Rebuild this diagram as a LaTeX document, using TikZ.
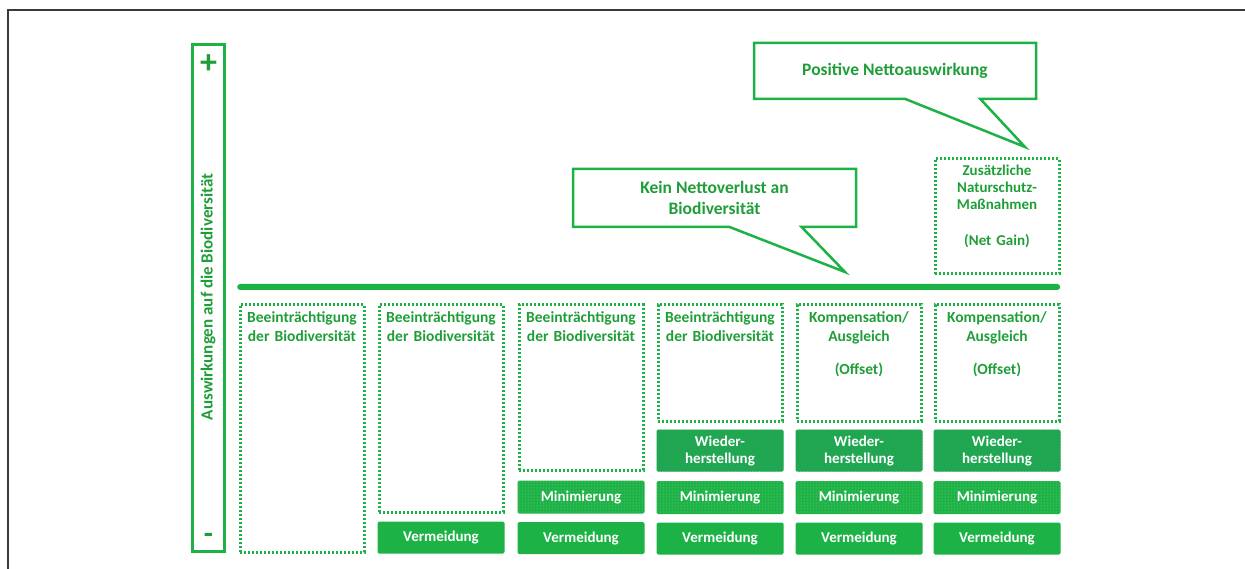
\documentclass[tikz,border=0pt]{standalone}
\usepackage{fontspec}
\setmainfont{Carlito}
\usepackage{tikz}
\usetikzlibrary{
  positioning,
  shapes.callouts,
  patterns
}
\definecolor{LeafGreen}{HTML}{1DB245}
\definecolor{InkGreen}{HTML}{1F9E38}
\definecolor{TealGreen}{HTML}{2A8F6E}
\definecolor{FrameGray}{HTML}{3A3A3A}
\tikzset{
  % Dotted impact box
  dotbox/.style={
    rectangle, draw=LeafGreen, line width=3pt,
    dash pattern=on 2.2pt off 1.8pt,
    minimum width=124pt, inner sep=0pt, anchor=north west
  },
  % Green text inside dotted boxes
  boxtxt/.style={
    text=InkGreen, align=center, text width=122pt, inner sep=2pt,
    font=\bfseries\fontsize{15.5}{19}\selectfont
  },
  % Filled mitigation box
  mitig/.style={
    rectangle, rounded corners=1.5pt, fill=LeafGreen,
    minimum width=127pt, inner sep=0pt, align=center, text=white,
    font=\bfseries\fontsize{15}{17}\selectfont
  },
  % Restoration box: teal tinted
  restore/.style={
    mitig, fill=TealGreen!40!LeafGreen,
    postaction={pattern=crosshatch dots, pattern color=LeafGreen}
  },
  % Minimisation box: light dots
  minim/.style={
    mitig, postaction={pattern=dots, pattern color=LeafGreen!55!white}
  },
  % Speech bubble
  bubble/.style={
    rectangle callout, draw=LeafGreen, line width=2.5pt, fill=white,
    text=InkGreen, align=center,
    font=\bfseries\fontsize{17.5}{21}\selectfont
  }
}
\begin{document}
\begin{tikzpicture}[x=1pt, y=-1pt]
  \useasboundingbox (0,0) rectangle (1245,569);

  % ---- FRAME ----
  \draw[FrameGray, line width=1.5pt] (8,569) -- (8,10) -- (1245,10);

  % ---- AXIS ----
  \node[draw=LeafGreen, line width=3pt, minimum width=32pt, minimum height=507pt,
    inner sep=0pt, anchor=north west] (axis) at (191,43) {};
  \node[below=8pt of axis.north, text=InkGreen, font=\bfseries\fontsize{34}{34}\selectfont] (plus) {+};
  \node[above=6pt of axis.south, text=InkGreen, font=\bfseries\fontsize{30}{30}\selectfont] (minus) {-};
  \node[rotate=90, text=InkGreen, font=\bfseries\fontsize{17}{19}\selectfont] (axlbl) at (208,297)
    {Auswirkungen auf die Biodiversität};

  % ---- ZERO LINE ----
  \node[fill=LeafGreen, rounded corners=3pt, minimum width=823pt, minimum height=6pt,
    inner sep=0pt, anchor=west] (zero) at (237,287) {};

  % ---- IMPACT BOXES ----
  \node[dotbox, minimum height=247pt] (imp1) at (238.5,303.5) {};
  \node[dotbox, minimum height=207pt] (imp2) at (377.5,303.5) {};
  \node[dotbox, minimum height=165pt] (imp3) at (517.5,303.5) {};
  \node[dotbox, minimum height=116pt] (imp4) at (656.5,303.5) {};
  \node[dotbox, minimum height=116pt] (comp5) at (795.5,303.5) {};
  \node[dotbox, minimum height=116pt] (comp6) at (933.5,303.5) {};
  \node[dotbox, minimum height=115pt] (gain) at (933.5,157.5) {};

  \node[boxtxt, below=6pt of imp1.north]  (t1) {Beeinträchtigung\\der Biodiversität};
  \node[boxtxt, below=6pt of imp2.north]  (t2) {Beeinträchtigung\\der Biodiversität};
  \node[boxtxt, below=6pt of imp3.north]  (t3) {Beeinträchtigung\\der Biodiversität};
  \node[boxtxt, below=6pt of imp4.north]  (t4) {Beeinträchtigung\\der Biodiversität};
  \node[boxtxt, below=6pt of comp5.north] (t5) {Kompensation/\\Ausgleich\\[14pt](Offset)};
  \node[boxtxt, below=6pt of comp6.north] (t6) {Kompensation/\\Ausgleich\\[14pt](Offset)};
  \node[boxtxt, below=5pt of gain.north, font=\bfseries\fontsize{15}{17}\selectfont] (tg)
    {Zusätzliche\\Naturschutz-\\Maßnahmen\\[19pt](Net Gain)};

  % ---- MITIGATION STACKS ----
  \node[mitig, minimum height=32pt, below=8pt of imp2] (ver2) {Vermeidung};

  \node[minim, minimum height=33pt, below=9pt of imp3] (min3) {Minimierung};
  \node[mitig, minimum height=32pt, below=8pt of min3] (ver3) {Vermeidung};

  \node[restore, minimum height=42pt, below=7pt of imp4] (wie4) {Wieder-\\herstellung};
  \node[minim,   minimum height=33pt, below=9pt of wie4] (min4) {Minimierung};
  \node[mitig,   minimum height=32pt, below=8pt of min4] (ver4) {Vermeidung};

  \node[restore, minimum height=42pt, below=7pt of comp5] (wie5) {Wieder-\\herstellung};
  \node[minim,   minimum height=33pt, below=9pt of wie5]  (min5) {Minimierung};
  \node[mitig,   minimum height=32pt, below=8pt of min5]  (ver5) {Vermeidung};

  \node[restore, minimum height=42pt, below=7pt of comp6] (wie6) {Wieder-\\herstellung};
  \node[minim,   minimum height=33pt, below=9pt of wie6]  (min6) {Minimierung};
  \node[mitig,   minimum height=32pt, below=8pt of min6]  (ver6) {Vermeidung};

  % ---- CALLOUTS ----
  \node[bubble, minimum width=283pt, minimum height=58pt,
    callout absolute pointer={(845,272)}, callout pointer width=72pt] (nonet)
    at (714.5,198) {Kein Nettoverlust an\\Biodiversität};
  \node[bubble, minimum width=282pt, minimum height=56pt,
    callout absolute pointer={(1025,147)}, callout pointer width=75pt] (posnet)
    at (895,71) {Positive Nettoauswirkung};

\end{tikzpicture}
\end{document}
